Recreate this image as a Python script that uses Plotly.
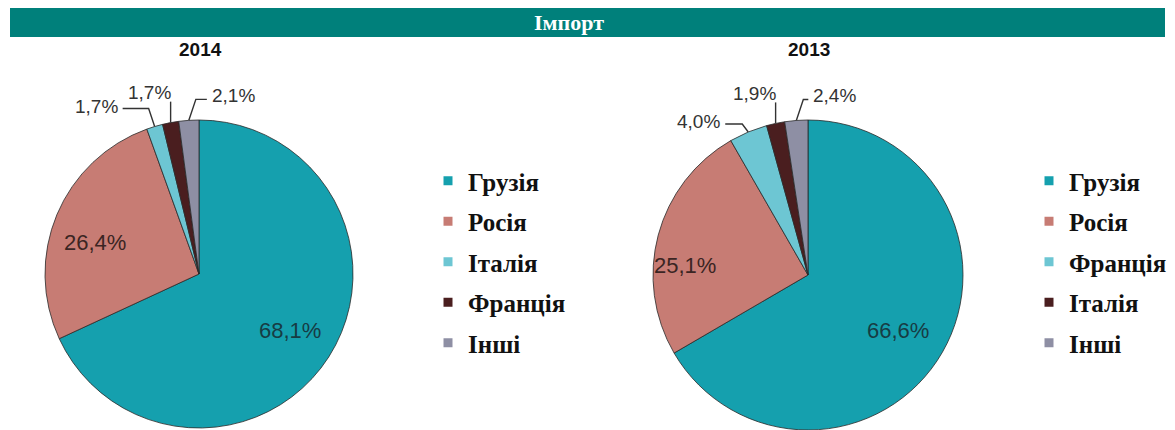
import math
import plotly.graph_objects as go

# ---------------- data ----------------
years = ["2014", "2013"]
categories_2014 = ["Грузія", "Росія", "Італія", "Франція", "Інші"]
values_2014 = [68.1, 26.4, 1.7, 1.7, 2.1]
categories_2013 = ["Грузія", "Росія", "Франція", "Італія", "Інші"]
values_2013 = [66.6, 25.1, 4.0, 1.9, 2.4]
title_text = "Імпорт"

# ---------------- style ----------------
W, H = 1175, 430
PAGE_OFF = 8  # default body margin of the written html page
slice_colors = ["#15a0ae", "#c77c74", "#6dc6d3", "#4a1e1f", "#8e8fa4"]
inside_colors = ["#173c44", "#3b2523"]
bar_color = "#00807b"
label_font = "Liberation Sans, Arial, sans-serif"
legend_font = "Liberation Serif, Times New Roman, serif"

# pie geometry in page pixels: centre x, centre y, radius
pie_geom = [dict(cx=199, cy=274, r=154), dict(cx=808, cy=275, r=155)]
legend_x = [428, 1029]
legend_top = 158
# large-slice label nudges (px) relative to 0.7r at the slice mid-angle
inside_nudge = [[(0, -2), (-5, 10)], [(-4, 1), (-18, 18)]]
# small-slice label placement: (style, dx, dy) relative to slice edge point
small_label_cfg = [
    [("left", -35, -20), ("up", 2, -30), ("right", 21, -25)],
    [("left", -26, -10), ("up", 2, -30), ("right", 15, -25)],
]


def fx(x):
    return min(max((x - PAGE_OFF) / W, 0.0), 1.0)


def fy(y):
    return min(max(1 - (y - PAGE_OFF) / H, 0.0), 1.0)


def fmt(v):
    return f"{v:.1f}%".replace(".", ",")


fig = go.Figure()
shapes = []
annotations = []

datasets = [(categories_2014, values_2014), (categories_2013, values_2013)]
for k, (cats, vals) in enumerate(datasets):
    g = pie_geom[k]
    cx, cy, r = g["cx"], g["cy"], g["r"]
    fig.add_trace(go.Pie(
        labels=cats,
        values=vals,
        sort=False,
        direction="clockwise",
        rotation=0,
        textinfo="none",
        marker=dict(colors=slice_colors, line=dict(color="#2a2a2a", width=0.8)),
        domain=dict(x=[fx(cx - r), fx(cx + r)], y=[fy(cy + r), fy(cy - r)]),
        showlegend=False,
        hoverinfo="label+percent",
    ))

    # legend entries (library legend, one group per item for spacing)
    legend_name = "legend" if k == 0 else "legend2"
    for i, c in enumerate(cats):
        fig.add_trace(go.Scatter(
            x=[None], y=[None], mode="markers", name=c,
            marker=dict(symbol="square", size=9, color=slice_colors[i]),
            legendgroup=f"g{k}_{i}", legend=legend_name, showlegend=True,
            hoverinfo="skip",
        ))

    # value labels (positions computed from data angles)
    total = sum(vals)
    cum = 0.0
    small_idx = 0
    big_idx = 0
    for i, v in enumerate(vals):
        mid = (cum + v / 2) / total * 2 * math.pi
        cum += v
        if v >= 10:
            nx, ny = inside_nudge[k][big_idx]
            big_idx += 1
            lx = cx + 0.7 * r * math.sin(mid) + nx
            ly = cy - 0.7 * r * math.cos(mid) + ny
            annotations.append(dict(x=fx(lx), y=fy(ly), xref="paper", yref="paper",
                                    text=fmt(v), showarrow=False, xanchor="center",
                                    yanchor="middle",
                                    font=dict(family=label_font, size=22,
                                              color=inside_colors[i])))
            continue
        ex = cx + r * math.sin(mid)
        ey = cy - r * math.cos(mid)
        style, dx, dy = small_label_cfg[k][small_idx]
        small_idx += 1
        tx, ty = ex + dx, ey + dy
        if style == "left":
            end = (tx + 3, ty + 2)
            elbow = (ex - 6, ty + 2)
            path = f"M {fx(ex)},{fy(ey)} L {fx(elbow[0])},{fy(elbow[1])} L {fx(end[0])},{fy(end[1])}"
            xanchor = "right"
        elif style == "up":
            path = f"M {fx(ex)},{fy(ey)} L {fx(ex)},{fy(ty + 9)}"
            xanchor = "right"
        else:
            end = (tx - 3, ty + 4)
            elbow = (ex + 7, ty + 4)
            path = f"M {fx(ex)},{fy(ey)} L {fx(elbow[0])},{fy(elbow[1])} L {fx(end[0])},{fy(end[1])}"
            xanchor = "left"
        shapes.append(dict(type="path", path=path, xref="paper", yref="paper",
                           line=dict(color="#333333", width=1.4)))
        annotations.append(dict(x=fx(tx), y=fy(ty), xref="paper", yref="paper",
                                text=fmt(v), showarrow=False, xanchor=xanchor,
                                yanchor="middle",
                                font=dict(family=label_font, size=19, color="#333333")))

    # year subtitle
    annotations.append(dict(x=fx(cx + 1), y=fy(49), xref="paper", yref="paper",
                            text=f"<b>{years[k]}</b>", showarrow=False,
                            xanchor="center", yanchor="middle",
                            font=dict(family=label_font, size=19, color="#111")))

# title bar
shapes.append(dict(type="rect", xref="paper", yref="paper",
                   x0=fx(10), x1=fx(1165), y0=fy(37), y1=fy(8),
                   fillcolor=bar_color, line=dict(width=0), layer="below"))
annotations.append(dict(x=fx(569), y=fy(22), xref="paper", yref="paper",
                        text=f"<b>{title_text}</b>", showarrow=False,
                        xanchor="center", yanchor="middle",
                        font=dict(family=legend_font, size=22, color="white")))

legend_common = dict(
    xanchor="left", yanchor="top", y=fy(legend_top),
    font=dict(family=legend_font, size=25, color="#111", weight="bold"),
    bgcolor="rgba(0,0,0,0)", tracegroupgap=5, traceorder="grouped",
    itemwidth=30,
)

fig.update_layout(
    width=W, height=H,
    margin=dict(l=0, r=0, t=0, b=0),
    paper_bgcolor="white", plot_bgcolor="white",
    shapes=shapes, annotations=annotations,
    xaxis=dict(visible=False), yaxis=dict(visible=False),
    legend=dict(x=fx(legend_x[0]), **legend_common),
    legend2=dict(x=fx(legend_x[1]), **legend_common),
)

fig.write_html("out.html")
